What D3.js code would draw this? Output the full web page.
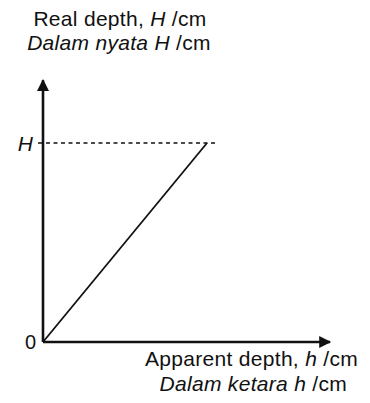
<!DOCTYPE html>
<html>
<head>
<meta charset="utf-8">
<script src="https://cdn.jsdelivr.net/npm/d3@7"></script>
<style>
  body { margin: 0; background: #fff; }
  text { font-family: "Liberation Sans", Arial, sans-serif; fill: #111; }
</style>
</head>
<body>
<svg id="chart" width="370" height="403"></svg>
<script>
// apparent depth h vs real depth H (relative units, H at 1)
const apparent = [0, 1];
const real = [0, 1];
const xAxisEnd = 1.75;
const yAxisEnd = 1.315;
const dashEnd = 1.07;
const tickLabels = ["0", "H"];

const svg = d3.select("#chart");

const x = d3.scaleLinear().domain([0, 1]).range([43, 207]);
const y = d3.scaleLinear().domain([0, 1]).range([342, 143]);

const defs = svg.append("defs");
defs.append("marker")
    .attr("id", "arrow")
    .attr("viewBox", "0 0 10 10")
    .attr("refX", 9).attr("refY", 5)
    .attr("markerWidth", 14).attr("markerHeight", 12)
    .attr("markerUnits", "userSpaceOnUse")
    .attr("orient", "auto")
    .append("path")
    .attr("d", "M0,0L10,5L0,10Z")
    .attr("fill", "#111");

// axes
svg.append("line")
    .attr("x1", x(0)).attr("y1", y(0))
    .attr("x2", x(xAxisEnd)).attr("y2", y(0))
    .attr("stroke", "#111").attr("stroke-width", 2.6)
    .attr("marker-end", "url(#arrow)");
svg.append("line")
    .attr("x1", x(0)).attr("y1", y(0))
    .attr("x2", x(0)).attr("y2", y(yAxisEnd))
    .attr("stroke", "#111").attr("stroke-width", 2.6)
    .attr("marker-end", "url(#arrow)");

// tick at H
svg.append("line")
    .attr("x1", x(0) - 5).attr("x2", x(0))
    .attr("y1", y(1)).attr("y2", y(1))
    .attr("stroke", "#111").attr("stroke-width", 1.5);

// dashed level of H
svg.append("line")
    .attr("x1", x(0) + 3).attr("x2", x(dashEnd))
    .attr("y1", y(1)).attr("y2", y(1))
    .attr("stroke", "#111").attr("stroke-width", 1.5)
    .attr("stroke-dasharray", "4,3.5");

// data line
svg.append("path")
    .datum(apparent.map((h, i) => [h, real[i]]))
    .attr("d", d3.line().x(d => x(d[0])).y(d => y(d[1])))
    .attr("fill", "none")
    .attr("stroke", "#111")
    .attr("stroke-width", 1.8);

// tick labels
svg.append("text")
    .attr("x", x(0) - 7).attr("y", y(0) + 7)
    .attr("text-anchor", "end")
    .attr("font-size", 20)
    .text(tickLabels[0]);
svg.append("text")
    .attr("x", x(0) - 10).attr("y", y(1) + 7.5)
    .attr("text-anchor", "end")
    .attr("font-size", 21)
    .attr("font-style", "italic")
    .text(tickLabels[1]);

const fs = 21;
const ls = 0.3;

// y axis title
const yt = svg.append("text").attr("x", 120).attr("y", 26)
    .attr("text-anchor", "middle").attr("font-size", fs).attr("letter-spacing", ls);
yt.append("tspan").text("Real depth, ");
yt.append("tspan").attr("font-style", "italic").text("H");
yt.append("tspan").text(" /cm");
const yt2 = svg.append("text").attr("x", 119).attr("y", 50)
    .attr("text-anchor", "middle").attr("font-size", fs).attr("letter-spacing", ls);
yt2.append("tspan").attr("font-style", "italic").text("Dalam nyata H ");
yt2.append("tspan").text("/cm");

// x axis title
const xt = svg.append("text").attr("x", 358).attr("y", 366)
    .attr("text-anchor", "end").attr("font-size", fs).attr("letter-spacing", ls);
xt.append("tspan").text("Apparent depth, ");
xt.append("tspan").attr("font-style", "italic").text("h");
xt.append("tspan").text(" /cm");
const xt2 = svg.append("text").attr("x", 347).attr("y", 391)
    .attr("text-anchor", "end").attr("font-size", fs).attr("letter-spacing", ls);
xt2.append("tspan").attr("font-style", "italic").text("Dalam ketara h ");
xt2.append("tspan").text("/cm");
</script>
</body>
</html>
